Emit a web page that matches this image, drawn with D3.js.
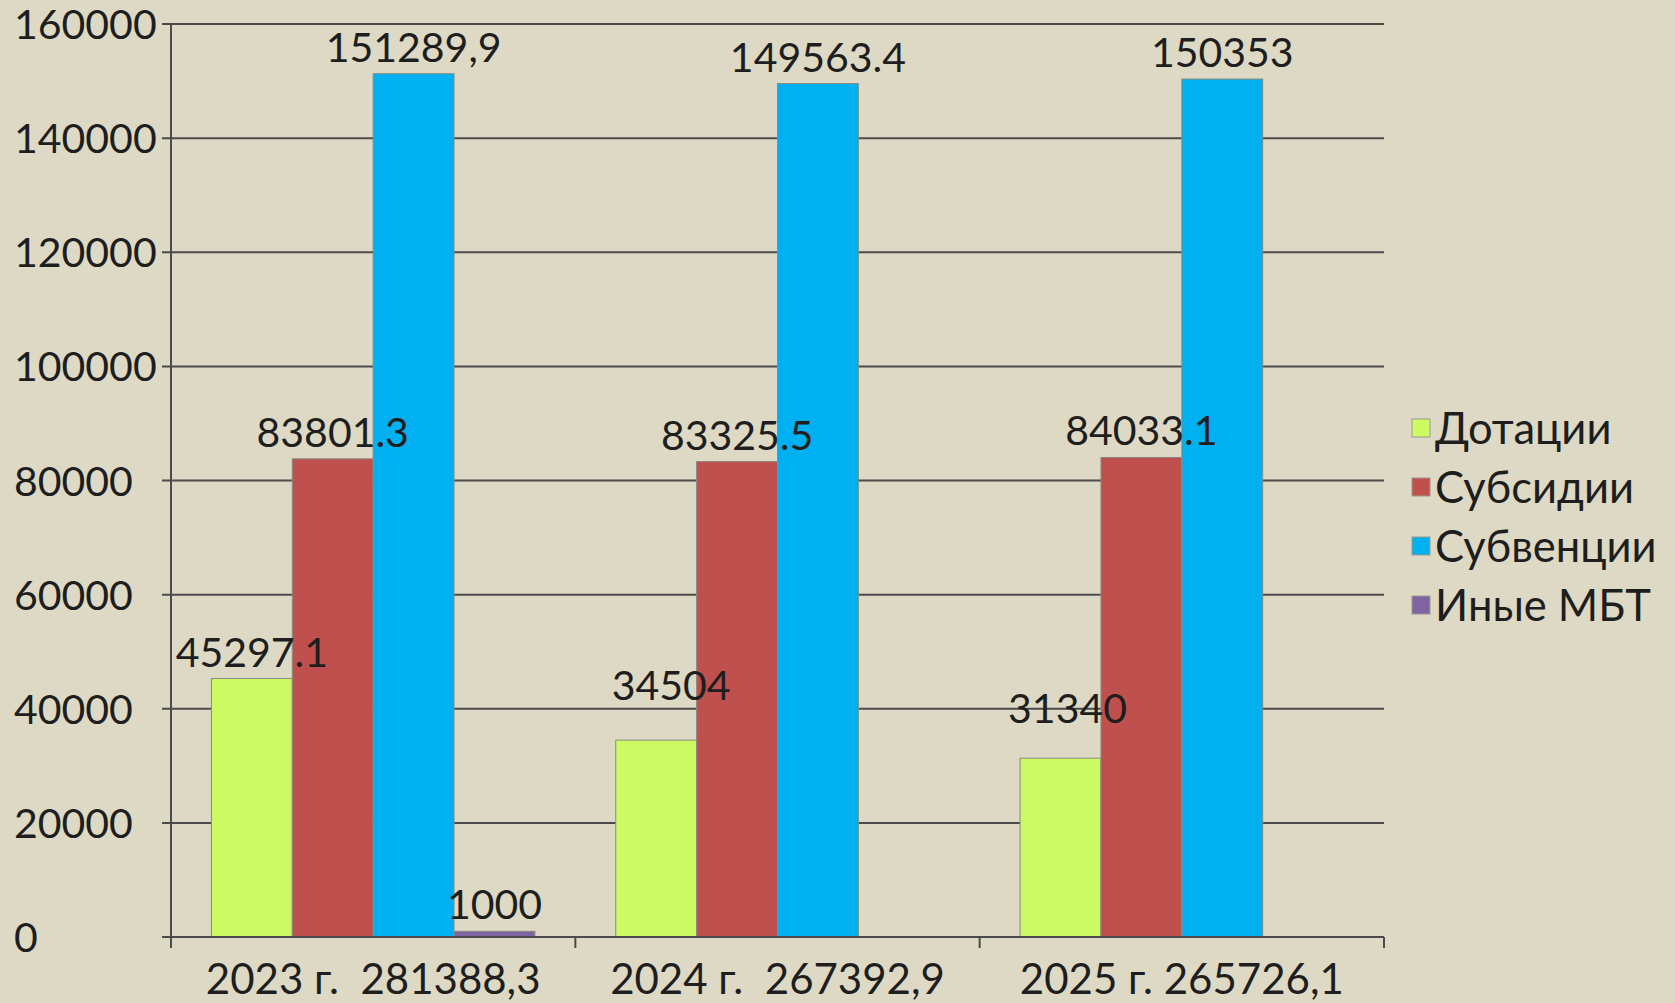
<!DOCTYPE html>
<html>
<head>
<meta charset="utf-8">
<title>МБТ 2023-2025</title>
<script src="https://d3js.org/d3.v7.min.js"></script>
<style>
    html, body {
        margin: 0;
        padding: 0;
        background: #ddd9c4;
    }
    svg {
        display: block;
        font-family: Lato, "Noto Sans", sans-serif;
    }
</style>
</head>
<body>
<svg id="chart" width="1675" height="1003"></svg>
<script>
// data
var categories = ["2023 г.  281388,3", "2024 г.  267392,9", "2025 г. 265726,1"];
var series = ["Дотации", "Субсидии", "Субвенции", "Иные МБТ"];
var colors = ["#cbfa62", "#c0504d", "#00b0f0", "#8064a2"];

var dotacii = [45297.1, 34504, 31340];
var subsidii = [83801.3, 83325.5, 84033.1];
var subvencii = [151289.9, 149563.4, 150353];
var inyeMbt = [1000, null, null];

// labels as printed on the chart (mixed separators kept)
var dotaciiLabels = ["45297.1", "34504", "31340"];
var subsidiiLabels = ["83801.3", "83325.5", "84033.1"];
var subvenciiLabels = ["151289,9", "149563.4", "150353"];
var inyeMbtLabels = ["1000", null, null];

var yTicks = [0, 20000, 40000, 60000, 80000, 100000, 120000, 140000, 160000];

var values = [dotacii, subsidii, subvencii, inyeMbt];
var labels = [dotaciiLabels, subsidiiLabels, subvenciiLabels, inyeMbtLabels];

// two labels were moved by hand in the original
var nudge = {"0-1": [15, -28], "0-2": [7, -23]};

var svg = d3.select("#chart");
var plotLeft = 171, plotRight = 1384, plotTop = 24, plotBottom = 937;

var y = d3.scaleLinear().domain([0, 160000]).range([plotBottom, plotTop]);
var x0 = d3.scaleBand().domain(categories).range([plotLeft, plotRight]);
var x1 = d3.scaleBand().domain(series)
    .range([x0.bandwidth() * 0.1, x0.bandwidth() * 0.9]);

var lineColor = "#4b4b4b";
var textColor = "#1e1e1e";

// gridlines
svg.append("g").selectAll("line")
    .data(yTicks.slice(1))
    .join("line")
    .attr("x1", plotLeft - 9).attr("x2", plotRight)
    .attr("y1", function(d) { return y(d); })
    .attr("y2", function(d) { return y(d); })
    .attr("stroke", lineColor)
    .attr("stroke-width", 2);

// y tick labels, left aligned like the original
svg.append("g").selectAll("text")
    .data(yTicks)
    .join("text")
    .attr("x", 14)
    .attr("y", function(d) { return y(d) + 15; })
    .attr("font-size", 41)
    .attr("fill", textColor)
    .text(function(d) { return d; });

// bars
var rows = [];
series.forEach(function(s, si) {
    categories.forEach(function(c, ci) {
        if (values[si][ci] != null) {
            rows.push({s: s, si: si, c: c, ci: ci, v: values[si][ci], label: labels[si][ci]});
        }
    });
});

svg.append("g").selectAll("rect")
    .data(rows)
    .join("rect")
    .attr("x", function(d) { return x0(d.c) + x1(d.s); })
    .attr("y", function(d) { return y(d.v); })
    .attr("width", x1.bandwidth())
    .attr("height", function(d) { return plotBottom - y(d.v); })
    .attr("fill", function(d) { return colors[d.si]; })
    .attr("stroke", "#8a8a80")
    .attr("stroke-width", 1);

// axes
svg.append("line")
    .attr("x1", plotLeft).attr("x2", plotLeft)
    .attr("y1", plotTop).attr("y2", plotBottom + 11)
    .attr("stroke", lineColor).attr("stroke-width", 2);
svg.append("line")
    .attr("x1", plotLeft - 9).attr("x2", plotRight)
    .attr("y1", plotBottom).attr("y2", plotBottom)
    .attr("stroke", lineColor).attr("stroke-width", 2);
svg.append("g").selectAll("line")
    .data(categories.map(function(c) { return x0(c) + x0.bandwidth(); }))
    .join("line")
    .attr("x1", function(d) { return d; })
    .attr("x2", function(d) { return d; })
    .attr("y1", plotBottom).attr("y2", plotBottom + 11)
    .attr("stroke", lineColor).attr("stroke-width", 2);

// value labels
svg.append("g").selectAll("text")
    .data(rows)
    .join("text")
    .attr("x", function(d) {
        var n = nudge[d.si + "-" + d.ci];
        return x0(d.c) + x1(d.s) + x1.bandwidth() / 2 + (n ? n[0] : 0);
    })
    .attr("y", function(d) {
        var n = nudge[d.si + "-" + d.ci];
        return y(d.v) - 12 + (n ? n[1] : 0);
    })
    .attr("text-anchor", "middle")
    .attr("font-size", 41)
    .attr("fill", textColor)
    .text(function(d) { return d.label; });

// category labels
svg.append("g").selectAll("text")
    .data(categories)
    .join("text")
    .attr("x", function(d) { return x0(d) + x0.bandwidth() / 2; })
    .attr("y", 994)
    .attr("text-anchor", "middle")
    .attr("font-size", 42)
    .attr("fill", textColor)
    .style("white-space", "pre")
    .text(function(d) { return d; });

// legend
var legend = svg.append("g").selectAll("g")
    .data(series)
    .join("g")
    .attr("transform", function(d, i) { return "translate(1412," + (428 + i * 59) + ")"; });
legend.append("rect")
    .attr("x", 0).attr("y", -9)
    .attr("width", 18).attr("height", 18)
    .attr("fill", function(d, i) { return colors[i]; })
    .attr("stroke", "#9a9a90").attr("stroke-width", 1);
legend.append("text")
    .attr("x", 23).attr("y", 16)
    .attr("font-size", 43.5)
    .attr("fill", textColor)
    .text(function(d) { return d; });
</script>
</body>
</html>
